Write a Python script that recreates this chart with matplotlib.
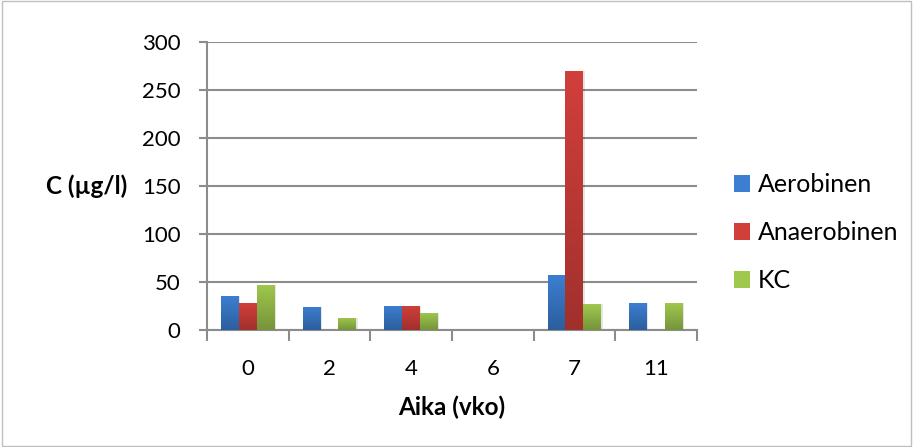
import numpy as np
import matplotlib.pyplot as plt
from matplotlib.patches import Rectangle
from matplotlib.colors import LinearSegmentedColormap

plt.rcParams['font.family'] = ['Lato', 'DejaVu Sans']

# Data
weeks = ["0", "2", "4", "6", "7", "11"]
aerobinen = [35, 24, 25, np.nan, 57, 28]
anaerobinen = [28, np.nan, 25, np.nan, 270, np.nan]
kc = [47, 13, 18, np.nan, 27, 28]

series = [("Aerobinen", aerobinen, "#3c7ed0", "#2c5f9e"),
          ("Anaerobinen", anaerobinen, "#d13f3b", "#a1302d"),
          ("KC", kc, "#9fc84d", "#76943a")]

fig = plt.figure(figsize=(9.13, 4.47), dpi=100)
ax = fig.add_axes([0.2267, 0.2617, 0.5367, 0.6443])

x = np.arange(len(weeks))
w = 0.22
for i, (name, vals, top, bottom) in enumerate(series):
    cmap = LinearSegmentedColormap.from_list(name, [bottom, top])
    bars = ax.bar(x + (i - 1) * w, vals, w, color=top, label=name, zorder=3)
    for b in bars:
        h = b.get_height()
        if not np.isfinite(h) or h <= 0:
            continue
        x0 = b.get_x()
        # soft shadow on the right side
        ax.add_patch(Rectangle((x0 + 0.015, 0), w, h, color="#000000",
                               alpha=0.10, lw=0, zorder=2))
        grad = np.linspace(0, 1, 64).reshape(-1, 1)
        im = ax.imshow(grad, cmap=cmap, origin="lower", aspect="auto",
                       extent=(x0, x0 + w, 0, h), zorder=4)
        im.set_clip_path(b)

ax.set_xlim(-0.5, len(weeks) - 0.5)
ax.set_ylim(0, 300)
ax.set_yticks(np.arange(0, 301, 50))
ax.tick_params(axis="y", labelsize=16, length=6, width=1.5, color="#8c8c8c", pad=13)

ax.set_xticks(x)
ax.set_xticklabels(weeks)
ax.set_xticks(np.arange(-0.5, len(weeks), 1), minor=True)
ax.tick_params(axis="x", which="major", length=0, labelsize=16, pad=21)
ax.tick_params(axis="x", which="minor", length=8, width=1.5, color="#8c8c8c")

ax.grid(axis="y", color="#8c8c8c", linewidth=1.5, zorder=0)
ax.set_axisbelow(True)
for side in ["top", "right"]:
    ax.spines[side].set_visible(False)
for side in ["left", "bottom"]:
    ax.spines[side].set_color("#8c8c8c")
    ax.spines[side].set_linewidth(1.5)

ax.set_ylabel("C (µg/l)", fontsize=17.5, fontweight="bold", rotation=0,
              ha="right", va="center", labelpad=11)
ax.yaxis.set_label_coords(-0.162, 0.5)
ax.set_xlabel("Aika (vko)", fontsize=17.5, fontweight="bold", labelpad=12)

ax.legend(loc="center left", bbox_to_anchor=(1.055, 0.337), frameon=False,
          fontsize=18, handlelength=0.64, handleheight=0.64, handletextpad=0.3,
          labelspacing=1.0, borderaxespad=0)

# chart area border
fig.patches.append(Rectangle((0.002, 0.003), 0.996, 0.994, transform=fig.transFigure,
                             fill=False, edgecolor="#bfbfbf", lw=1))

fig.savefig("out.png", dpi=100)
